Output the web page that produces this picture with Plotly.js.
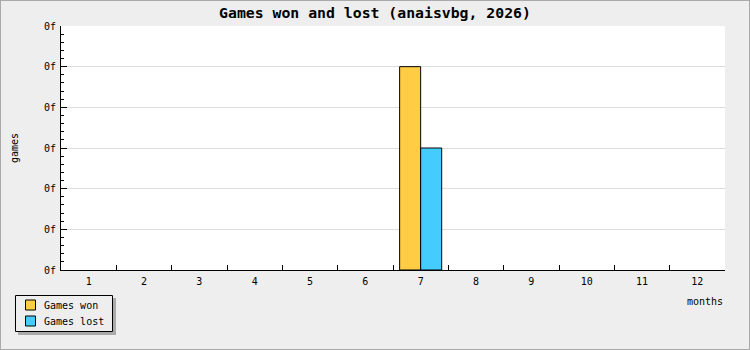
<!DOCTYPE html>
<html>
<head>
<meta charset="utf-8">
<script src="https://cdn.plot.ly/plotly-3.0.1.min.js"></script>
<style>
html,body{margin:0;padding:0;background:#eeeeee;}
#wrap{position:relative;width:750px;height:350px;}
#chart{width:750px;height:350px;}
#frame{position:absolute;left:0;top:0;width:748px;height:348px;border:1px solid #aaaaaa;pointer-events:none;}
</style>
</head>
<body>
<div id="wrap"><div id="chart"></div><div id="frame"></div></div>
<script>
const months = ['1','2','3','4','5','6','7','8','9','10','11','12'];
const seriesNames = ['Games won', 'Games lost'];
const gamesWon  = [0,0,0,0,0,0,5,0,0,0,0,0];
const gamesLost = [0,0,0,0,0,0,3,0,0,0,0,0];
const yTickVals = [0,1,2,3,4,5,6];
const yTickText = ['0f','0f','0f','0f','0f','0f','0f'];
const colors = ['#ffcc44', '#44ccff'];

const mono = 'DejaVu Sans Mono, monospace';
const W = 750, H = 350, L = 61, R = 25, T = 26, B = 80;
const pw = W - L - R, ph = H - T - B;
const px = v => (v - L) / pw;
const py = v => (H - B - v) / ph;

const series = [gamesWon, gamesLost];
const traces = series.map((vals, i) => ({
  type:'bar', name:seriesNames[i], x:months, y:vals, showlegend:false,
  marker:{color:colors[i], line:{color:'#000', width:vals.map(v => v > 0 ? 1 : 0)}}
}));

// custom legend (box, shadow, swatches, labels)
const shapes = [
  {type:'rect', xref:'paper', yref:'paper', x0:px(18), x1:px(116), y0:py(298), y1:py(335),
   fillcolor:'#aaaaaa', line:{width:0}, layer:'above'},
  {type:'rect', xref:'paper', yref:'paper', x0:px(15.5), x1:px(112.5), y0:py(295.5), y1:py(331.5),
   fillcolor:'#eeeeee', line:{color:'#000', width:1}, layer:'above'}
];
const annotations = [
  {text:'months', xref:'paper', yref:'paper', x:px(725), y:py(301), xanchor:'right', yanchor:'middle',
   showarrow:false, font:{family:mono, size:10, color:'#000'}}
];
seriesNames.forEach((n, i) => {
  const cy = 305 + i * 16;
  shapes.push({type:'rect', xref:'paper', yref:'paper', x0:px(25.5), x1:px(35.5), y0:py(cy - 5), y1:py(cy + 5),
    fillcolor:colors[i], line:{color:'#000', width:1}, layer:'above'});
  annotations.push({text:n, xref:'paper', yref:'paper', x:px(42), y:py(cy + 0.5), xanchor:'left', yanchor:'middle',
    showarrow:false, font:{family:mono, size:10, color:'#000'}});
});

const layout = {
  width:W, height:H,
  margin:{l:L, r:R, t:T, b:B, pad:0, autoexpand:false},
  paper_bgcolor:'#eeeeee', plot_bgcolor:'#ffffff',
  barmode:'group', bargap:0.24, bargroupgap:0,
  showlegend:false,
  title:{text:'<b>Games won and lost (anaisvbg, 2026)</b>', font:{family:mono, size:14.8, color:'#000'},
         x:0.5, xanchor:'center', xref:'container', y:1 - 13/H, yanchor:'middle', yref:'container'},
  xaxis:{type:'category', tickson:'boundaries', ticks:'inside', ticklen:5, tickcolor:'#000',
         showline:true, linecolor:'#000', linewidth:1, showgrid:false, zeroline:false, automargin:false,
         tickfont:{family:mono, size:10, color:'#000'}, ticklabelstandoff:2, fixedrange:true},
  yaxis:{range:[0,6], tickvals:yTickVals, ticktext:yTickText, ticks:'inside', ticklen:6, tickcolor:'#000',
         showline:true, linecolor:'#000', linewidth:1, showgrid:true, gridcolor:'#dddddd', zeroline:false,
         automargin:false,
         minor:{dtick:0.2, ticks:'inside', ticklen:3, tickcolor:'#000', showgrid:false},
         tickfont:{family:mono, size:10, color:'#000'}, ticklabelstandoff:2,
         title:{text:'games', standoff:23, font:{family:mono, size:10, color:'#000'}}},
  shapes:shapes,
  annotations:annotations
};

Plotly.newPlot('chart', traces, layout, {displayModeBar:false, staticPlot:true});
</script>
</body>
</html>
